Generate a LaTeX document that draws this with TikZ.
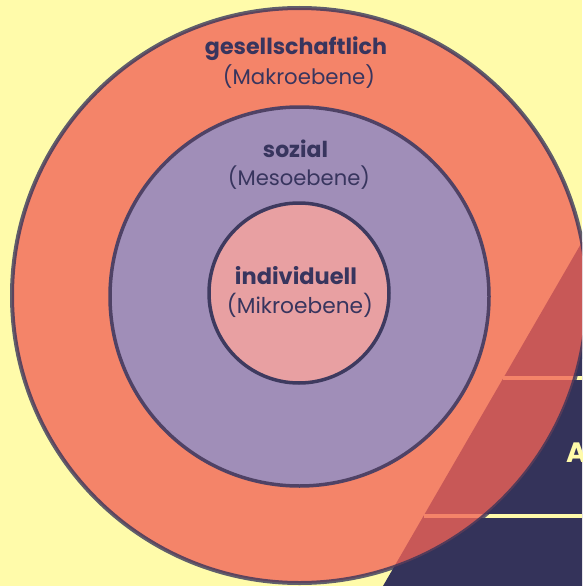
\documentclass[tikz,border=0pt]{standalone}
\usepackage{fontspec}
\setmainfont{Poppins}
\usepackage{graphicx}
\definecolor{bgyellow}{RGB}{255,251,170}
\definecolor{navy}{RGB}{52,51,90}
\definecolor{outerfill}{RGB}{242,99,87}
\definecolor{midfill}{RGB}{160,142,184}
\definecolor{midline}{RGB}{79,66,101}
\definecolor{innerfill}{RGB}{232,160,162}
\definecolor{innerline}{RGB}{62,58,95}
\definecolor{txt}{RGB}{56,53,94}
\tikzset{
  lbl/.style={anchor=base, inner sep=0pt, text=txt},
  gapline/.style={draw=bgyellow, line width=4pt},
}
\begin{document}
\begin{tikzpicture}[x=1pt,y=-1pt]
\useasboundingbox (0,0) rectangle (582,586);
\clip (0,0) rectangle (582,586);
\fill[bgyellow] (0,0) rectangle (582,586);
% pyramid (cut off at right)
\fill[navy] (582,242) -- (383,586) -- (582,586) -- cycle;
\coordinate (g1a) at (503.4,378);
\coordinate (g1b) at (582,378);
\coordinate (g2a) at (423.6,516);
\coordinate (g2b) at (582,516);
\draw[gapline] (g1a) -- (g1b);
\draw[gapline] (g2a) -- (g2b);
\node[anchor=base west, inner sep=0pt, text=bgyellow, font=\bfseries\fontsize{28}{30}\selectfont] (A) at (566,462) {A};
% circles
\node[circle, minimum size=575pt, inner sep=0pt, fill=outerfill, draw=navy, line width=4pt, opacity=0.78] (outer) at (299.5,295.5) {};
\node[circle, minimum size=379pt, inner sep=0pt, fill=midfill, draw=midline, line width=3.5pt] (mid) at (299.5,296.5) {};
\node[circle, minimum size=180pt, inner sep=0pt, fill=innerfill, draw=innerline, line width=3.5pt] (inner) at (299,293) {};
% labels
\node[lbl] (t1) at (296,55) {\resizebox{182pt}{!}{\bfseries gesellschaftlich}};
\node[lbl] (t2) at (299,84) {\resizebox{152pt}{!}{(Makroebene)}};
\node[lbl] (t3) at (295.5,157) {\resizebox{65pt}{!}{\bfseries sozial}};
\node[lbl] (t4) at (299,185) {\resizebox{142pt}{!}{(Mesoebene)}};
\node[lbl] (t5) at (296,284) {\resizebox{122pt}{!}{\bfseries individuell}};
\node[lbl] (t6) at (300,313) {\resizebox{146pt}{!}{(Mikroebene)}};
\end{tikzpicture}
\end{document}
